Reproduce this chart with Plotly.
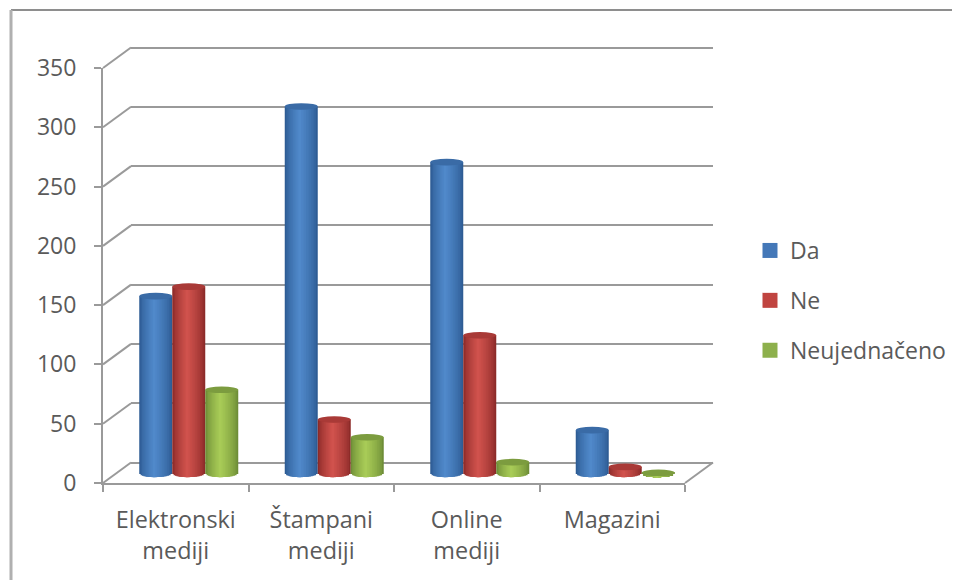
import math
import plotly.graph_objects as go

categories = ["Elektronski<br>mediji", "Štampani<br>mediji", "Online<br>mediji", "Magazini"]
da = [150, 310, 263, 37]
ne = [158, 46, 117, 6]
neujednaceno = [71, 31, 10, 1]
y_ticks = [0, 50, 100, 150, 200, 250, 300, 350]

OFF = 8  # the page body keeps its default margin
W, H = 960 - OFF, 580 - OFF
FRONT_X = (103, 685)
FRONT_Y = (483, 68)
DEPTH_X, DEPTH_Y = 28, 20.5
BAR_SHIFT_X, BAR_SHIFT_Y = 13, 9
PX_Y = (FRONT_Y[0] - FRONT_Y[1]) / 350
PX_X = (FRONT_X[1] - FRONT_X[0]) / 4
GREY = "#9a9a9a"
TEXT = "#5a5a5a"
FONT = "Open Sans"
N_LAYERS = 11
PEAK = 0.45

def dom_x(a, b):
    return [(a - OFF) / W, (b - OFF) / W]

def dom_y(bottom, top):
    return [1 - (bottom - OFF) / H, 1 - (top - OFF) / H]

def mix(a, b, f):
    ch = [int(a[i:i + 2], 16) * (1 - f) + int(b[i:i + 2], 16) * f for i in (1, 3, 5)]
    return "rgb(%d,%d,%d)" % tuple(ch)

series = [
    ("Da", da, "#4478b8", "#3a6ba6", "#2e5c94", "#5089ca"),
    ("Ne", ne, "#c04440", "#a93a37", "#8c2b29", "#d0524d"),
    ("Neujednačeno", neujednaceno, "#8db04c", "#7c9c3f", "#6e8d37", "#a8cb57"),
]

fig = go.Figure()
BAR_W = 33 / PX_X
ELL_Y = 3.3 / PX_Y
shapes = []

for i, (name, vals, swatch, top, edge, light) in enumerate(series):
    xc = [k + 0.5 + (i - 1) * BAR_W for k in range(len(vals))]
    # nested bars, outermost first, give the cylinder its shading
    for j in range(N_LAYERS):
        f = j / (N_LAYERS - 1)
        left = f * PEAK * 0.92
        right = 1 - f * (1 - PEAK) * 0.92
        u = max(abs(left * 2 - 1), abs(right * 2 - 1))
        e = ELL_Y * math.sqrt(max(0, 1 - u * u))
        mid = (left + right) / 2 - 0.5
        fig.add_trace(go.Bar(
            x=[c + mid * BAR_W for c in xc], y=vals, base=[-e] * len(vals),
            width=(right - left) * BAR_W,
            marker=dict(color=mix(edge, light, f ** 0.7), line=dict(width=0)),
            xaxis="x3", yaxis="y3", showlegend=False, hoverinfo="skip", cliponaxis=False,
        ))
    for c, v in zip(xc, vals):
        shapes.append(dict(type="circle", xref="x3", yref="y3", layer="above",
                           x0=c - BAR_W / 2, x1=c + BAR_W / 2, y0=v - ELL_Y, y1=v + ELL_Y,
                           fillcolor=top, line=dict(width=0)))
    fig.add_trace(go.Scatter(x=[None], y=[None], mode="markers", name=name,
                             legendgroup=name,
                             marker=dict(symbol="square", size=15, color=swatch)))

# perspective connectors, on a wide hidden subplot in the same scale as the front axes
dx, dy = DEPTH_X / PX_X, DEPTH_Y / PX_Y
for t in y_ticks:
    fig.add_trace(go.Scatter(x=[0, dx], y=[t, t + dy], mode="lines", xaxis="x4", yaxis="y4",
                             line=dict(color=GREY, width=2), showlegend=False, hoverinfo="skip"))
fig.add_trace(go.Scatter(x=[4, 4 + dx], y=[0, dy], mode="lines", xaxis="x4", yaxis="y4",
                         line=dict(color=GREY, width=2), showlegend=False, hoverinfo="skip"))
# back wall subplot carries the gridlines
fig.add_trace(go.Scatter(x=[None], y=[None], xaxis="x2", yaxis="y2", showlegend=False, hoverinfo="skip"))

shapes.append(dict(type="line", xref="paper", yref="paper", layer="below",
                   x0=(11 - OFF) / W, x1=1.02, y0=1 - (10 - OFF) / H, y1=1 - (10 - OFF) / H,
                   line=dict(color="#8e8e8e", width=2)))
shapes.append(dict(type="line", xref="paper", yref="paper", layer="below",
                   x0=(11 - OFF) / W, x1=(11 - OFF) / W, y0=1 - (10 - OFF) / H, y1=-0.02,
                   line=dict(color="#b0b0b0", width=3)))

PAD = 10  # value units added round the back wall so its first and last gridlines are drawn
PAD4_X, PAD4_Y = 0.5, 30

fig.update_layout(
    width=W, height=H, margin=dict(l=0, r=0, t=0, b=0, autoexpand=False),
    paper_bgcolor="white", plot_bgcolor="rgba(0,0,0,0)",
    barmode="overlay", font=dict(family=FONT, color=TEXT, size=23),
    shapes=shapes,
    xaxis=dict(domain=dom_x(*FRONT_X), range=[0, 4], anchor="y",
               tickmode="array", tickvals=[0.5, 1.5, 2.5, 3.5], ticktext=categories,
               ticks="", showgrid=False, zeroline=False, ticklabelstandoff=15,
               showline=True, linecolor=GREY, linewidth=2,
               minor=dict(tickmode="array", tickvals=[0, 1, 2, 3, 4], ticks="outside",
                          ticklen=7, tickwidth=2, tickcolor=GREY, showgrid=False),
               tickfont=dict(family=FONT, size=23.4, color=TEXT)),
    yaxis=dict(domain=dom_y(*FRONT_Y), range=[0, 350], anchor="x",
               tickmode="array", tickvals=y_ticks, ticklabelstandoff=13,
               ticks="outside", ticklen=7, tickwidth=2, tickcolor=GREY,
               showgrid=False, zeroline=False,
               showline=True, linecolor=GREY, linewidth=2,
               tickfont=dict(family=FONT, size=23, color=TEXT)),
    xaxis2=dict(domain=dom_x(FRONT_X[0] + DEPTH_X, FRONT_X[1] + DEPTH_X), range=[0, 4], anchor="y2",
                visible=False, showgrid=False),
    yaxis2=dict(domain=dom_y(FRONT_Y[0] - DEPTH_Y + PAD * PX_Y, FRONT_Y[1] - DEPTH_Y - PAD * PX_Y),
                range=[-PAD, 350 + PAD], anchor="x2",
                tickmode="array", tickvals=y_ticks, showticklabels=False, ticks="",
                showgrid=True, gridcolor=GREY, gridwidth=2, zeroline=False, showline=False),
    xaxis3=dict(domain=dom_x(FRONT_X[0] + BAR_SHIFT_X, FRONT_X[1] + BAR_SHIFT_X), range=[0, 4],
                anchor="y3", visible=False),
    yaxis3=dict(domain=dom_y(FRONT_Y[0] - BAR_SHIFT_Y + 10 * PX_Y, FRONT_Y[1] - BAR_SHIFT_Y),
                range=[-10, 350], anchor="x3", visible=False),
    xaxis4=dict(domain=dom_x(FRONT_X[0] - PAD4_X * PX_X, FRONT_X[1] + PAD4_X * PX_X),
                range=[-PAD4_X, 4 + PAD4_X], anchor="y4", visible=False),
    yaxis4=dict(domain=dom_y(FRONT_Y[0] + PAD4_Y * PX_Y, FRONT_Y[1] - PAD4_Y * PX_Y),
                range=[-PAD4_Y, 350 + PAD4_Y], anchor="x4", visible=False),
    legend=dict(x=(750 - OFF) / W, y=1 - (229 - OFF) / H, xanchor="left", yanchor="top",
                tracegroupgap=17, bgcolor="rgba(0,0,0,0)",
                font=dict(family=FONT, size=23, color=TEXT)),
)

fig.write_html("out.html")
